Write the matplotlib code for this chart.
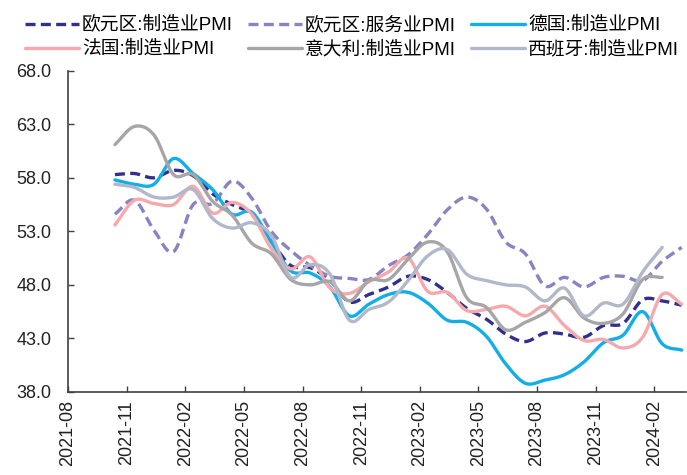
import numpy as np
import matplotlib
matplotlib.use("Agg")
import matplotlib.pyplot as plt
import matplotlib.transforms as mtransforms

plt.rcParams['font.family'] = ['Liberation Sans', 'Noto Sans CJK SC', 'DejaVu Sans']

# Monthly PMI, 2021-10 .. 2024-03 (Italy / Spain end at 2024-02)
months = ['2021-10', '2021-11', '2021-12', '2022-01', '2022-02', '2022-03', '2022-04',
          '2022-05', '2022-06', '2022-07', '2022-08', '2022-09', '2022-10', '2022-11',
          '2022-12', '2023-01', '2023-02', '2023-03', '2023-04', '2023-05', '2023-06',
          '2023-07', '2023-08', '2023-09', '2023-10', '2023-11', '2023-12', '2024-01',
          '2024-02', '2024-03']

ez_mfg = [58.3, 58.4, 58.0, 58.7, 58.2, 56.5, 55.5, 54.6, 52.1, 49.8, 49.6, 48.4, 46.4, 47.1,
          47.8, 48.8, 48.5, 47.3, 45.8, 44.8, 43.4, 42.7, 43.5, 43.4, 43.1, 44.2, 44.4, 46.6,
          46.5, 46.1]
ez_srv = [54.6, 55.9, 53.1, 51.1, 55.5, 55.6, 57.7, 56.1, 53.0, 51.2, 49.8, 48.8, 48.6, 48.5,
          49.8, 50.8, 52.7, 55.0, 56.2, 55.1, 52.0, 50.9, 47.9, 48.7, 47.8, 48.7, 48.8, 48.4,
          50.2, 51.5]
de_mfg = [57.8, 57.4, 57.4, 59.8, 58.4, 56.9, 54.6, 54.8, 52.0, 49.3, 49.1, 47.8, 45.1, 46.2,
          47.1, 47.3, 46.3, 44.7, 44.5, 43.2, 40.6, 38.8, 39.1, 39.6, 40.8, 42.6, 43.3, 45.5,
          42.5, 41.9]
fr_mfg = [53.6, 55.9, 55.6, 55.5, 57.2, 54.7, 55.7, 54.6, 51.4, 49.5, 50.6, 47.7, 47.2, 48.3,
          49.2, 50.5, 47.4, 47.3, 45.6, 45.7, 46.0, 45.1, 46.0, 44.2, 42.8, 42.9, 42.1, 43.1,
          47.1, 46.2]
it_mfg = [61.1, 62.8, 62.0, 58.3, 58.3, 55.8, 54.5, 51.9, 50.9, 48.5, 48.0, 48.3, 46.5, 48.4,
          48.5, 50.4, 52.0, 51.1, 46.8, 45.9, 43.8, 44.5, 45.4, 46.8, 44.9, 44.4, 45.3, 48.5,
          48.7]
es_mfg = [57.4, 57.1, 56.2, 56.2, 56.9, 54.2, 53.3, 53.8, 52.6, 48.7, 49.9, 49.0, 44.7, 45.7,
          46.4, 48.4, 50.7, 51.3, 49.0, 48.4, 48.0, 47.8, 46.5, 47.7, 45.1, 46.3, 46.2, 49.2,
          51.5]

tick_labels = ['2021-08', '2021-11', '2022-02', '2022-05', '2022-08', '2022-11',
               '2023-02', '2023-05', '2023-08', '2023-11', '2024-02']


def month_pos(label):
    y, m = map(int, label.split('-'))
    return (y - 2021) * 12 + (m - 8)


def smooth(x, y, n=16):
    # Catmull-Rom spline through the monthly points
    x = np.asarray(x, float)
    y = np.asarray(y, float)
    px = np.concatenate([[2 * x[0] - x[1]], x, [2 * x[-1] - x[-2]]])
    py = np.concatenate([[2 * y[0] - y[1]], y, [2 * y[-1] - y[-2]]])
    t = np.linspace(0, 1, n, endpoint=False)
    xs, ys = [], []
    for i in range(1, len(px) - 2):
        for p, out in ((px, xs), (py, ys)):
            p0, p1, p2, p3 = p[i - 1], p[i], p[i + 1], p[i + 2]
            out.append(0.5 * (2 * p1 + (-p0 + p2) * t
                              + (2 * p0 - 5 * p1 + 4 * p2 - p3) * t ** 2
                              + (-p0 + 3 * p1 - 3 * p2 + p3) * t ** 3))
    xs.append([x[-1]])
    ys.append([y[-1]])
    return np.concatenate(xs), np.concatenate(ys)


x_all = np.array([month_pos(m) for m in months]) + 0.4

dash = (0, (3.0, 1.6))
series = [
    ('欧元区:制造业PMI', ez_mfg, '#33308C', dash),
    ('欧元区:服务业PMI', ez_srv, '#8A82C2', dash),
    ('德国:制造业PMI', de_mfg, '#12AEE8', '-'),
    ('法国:制造业PMI', fr_mfg, '#F6A9AC', '-'),
    ('意大利:制造业PMI', it_mfg, '#A6A6A6', '-'),
    ('西班牙:制造业PMI', es_mfg, '#B0B8CA', '-'),
]

fig = plt.figure(figsize=(6.87, 4.75), dpi=100)
ax = fig.add_axes([0.099, 0.175, 0.899, 0.676])

handles = []
for name, vals, color, ls in series:
    sx, sy = smooth(x_all[:len(vals)], vals)
    h, = ax.plot(sx, sy, color=color, lw=2.4, linestyle=ls, label=name,
                 solid_capstyle='round')
    handles.append(h)

ax.set_xlim(0, 31.6)
ax.set_ylim(38, 68)
ax.set_yticks(np.arange(38, 68.1, 5))
ax.set_yticklabels([f'{v:.1f}' for v in np.arange(38, 68.1, 5)], fontsize=13)
ax.set_xticks([month_pos(t) for t in tick_labels])
ax.set_xticklabels(tick_labels, rotation=90, fontsize=13)

offset = mtransforms.ScaledTranslation(0.08, 0, fig.dpi_scale_trans)
for lbl in ax.get_xticklabels():
    lbl.set_transform(lbl.get_transform() + offset)

for side in ('top', 'right'):
    ax.spines[side].set_visible(False)
for side in ('left', 'bottom'):
    ax.spines[side].set_color('#404040')
    ax.spines[side].set_linewidth(1.2)
ax.tick_params(direction='in', length=4, width=1.0, color='#404040', labelcolor='#222222')
ax.tick_params(axis='y', pad=12)
ax.tick_params(axis='x', pad=6)

# legend is filled column by column, so interleave to read row by row
order = [0, 3, 1, 4, 2, 5]
fig.legend([handles[i] for i in order], [series[i][0] for i in order],
           loc='upper left', bbox_to_anchor=(0.025, 0.982), ncol=3, frameon=False,
           fontsize=13.5, handlelength=2.9, handletextpad=0.15, columnspacing=0.8,
           labelspacing=0.35, borderaxespad=0)

fig.savefig('out.png', dpi=100)
